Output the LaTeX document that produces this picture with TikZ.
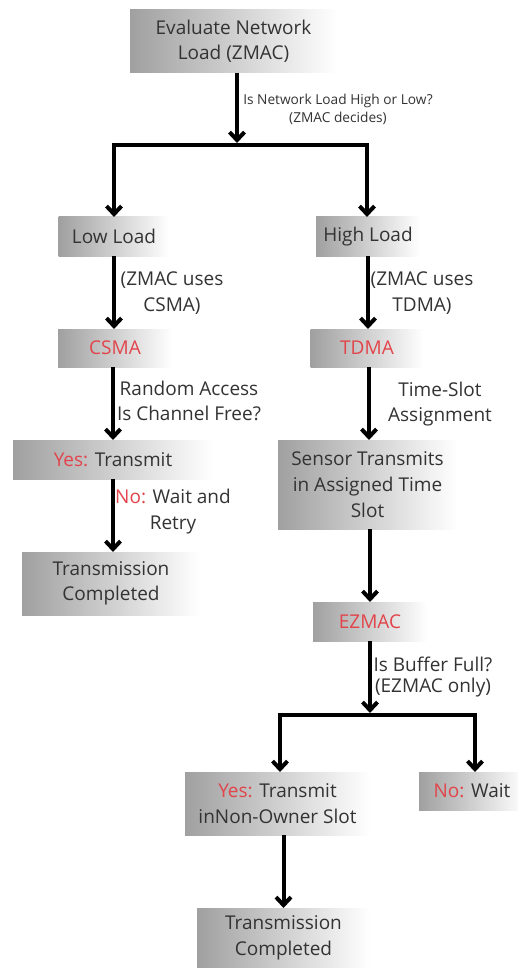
\documentclass[tikz,border=0pt]{standalone}
\usepackage{fontspec}
\setmainfont{Open Sans}
\usetikzlibrary{arrows.meta}
\definecolor{txt}{HTML}{333333}
\definecolor{redt}{HTML}{E2444B}
\definecolor{boxl}{HTML}{A0A0A0}
\newcommand{\rd}[1]{\textcolor{redt}{#1}}
\begin{document}
\begin{tikzpicture}[x=1pt,y=-1pt,
  box/.style={left color=boxl, right color=white, draw=none, inner sep=0pt, outer sep=0pt,
    align=center, text=txt, font=\fontsize{19}{25}\selectfont},
  lbl/.style={text=txt, align=center, inner sep=0pt, font=\fontsize{19}{26}\selectfont},
  small/.style={text=txt, align=center, inner sep=0pt, font=\fontsize{13.7}{18}\selectfont},
  ln/.style={draw=black, line width=4pt, line join=miter},
  arr/.style={ln, -{Straight Barb[length=8pt,width=15pt]}}]
\useasboundingbox (0,0) rectangle (517,968);
\fill[white] (0,0) rectangle (517,968);

% boxes
\node[box, minimum width=207, minimum height=63] (eval) at (233.5,41.5) {Evaluate Network\\Load (ZMAC)};
\node[box, minimum width=111, minimum height=39] (low) at (114,236.5) {Low Load};
\node[box, minimum width=104, minimum height=39] (high) at (368,236.5) {High Load};
\node[box, minimum width=114, minimum height=38] (csma) at (115,348) {\rd{CSMA}};
\node[box, minimum width=113, minimum height=38] (tdma) at (367,348) {\rd{TDMA}};
\node[box, minimum width=200, minimum height=39] (yes1) at (113,459.5) {\rd{Yes:} Transmit};
\node[box, minimum width=178, minimum height=63] (done1) at (111,583.5) {Transmission\\Completed};
\node[box, minimum width=179, minimum height=89, font=\fontsize{19}{26}\selectfont] (sensor) at (367.5,484.5) {Sensor Transmits\\in Assigned Time\\Slot};
\node[box, minimum width=114, minimum height=39] (ezmac) at (370,621.5) {\rd{EZMAC}};
\node[box, minimum width=185, minimum height=63, font=\fontsize{19}{26}\selectfont] (yes2) at (277.5,803.5) {\rd{Yes:} Transmit\\inNon-Owner Slot};
\node[box, minimum width=106, minimum height=38] (no2) at (472,791) {\rd{No:} Wait};
\node[box, minimum width=173, minimum height=60, font=\fontsize{19}{26}\selectfont] (done2) at (283.5,938) {Transmission\\Completed};

% labels
\node[small] (l1) at (338,109) {Is Network Load High or Low?\\(ZMAC decides)};
\node[lbl] (l2) at (172,293) {(ZMAC uses\\CSMA)};
\node[lbl] (l3) at (422,293) {(ZMAC uses\\TDMA)};
\node[lbl, font=\fontsize{19}{25}\selectfont] (l4) at (189,400.5) {Random Access\\Is Channel Free?};
\node[lbl, font=\fontsize{19}{25}\selectfont] (l5) at (440,404.5) {Time-Slot\\Assignment};
\node[lbl] (l6) at (173,512) {\rd{No:} Wait and\\Retry};
\node[lbl, font=\fontsize{19}{21}\selectfont] (l7) at (433,677.5) {Is Buffer Full?\\(EZMAC only)};

% split coordinates
\coordinate (s1) at (237,143);
\coordinate (bl) at (114,145);
\coordinate (br) at (367,145);
\coordinate (tx) at (369,0);
\coordinate (s2) at (370,713);
\coordinate (bl2) at (280,715);
\coordinate (br2) at (475,715);

% connectors
\draw[arr] (eval.south -| s1) -- (s1);
\draw[arr] (br) -- (bl) -- (bl |- low.north);
\draw[arr] (bl) -- (br) -- (br |- high.north);
\draw[arr] (low.south) -- (low.south |- csma.north);
\draw[arr] (high.south) -- (high.south |- tdma.north);
\draw[arr] (yes1.north |- csma.south) -- (yes1.north);
\draw[arr] (yes1.south) -- (yes1.south |- done1.north);
\draw[arr] (tdma.south -| tx) -- (sensor.north -| tx);
\draw[arr] (sensor.south -| ezmac.north) -- (ezmac.north);
\draw[arr] (ezmac.south) -- (s2);
\draw[arr] (br2) -- (bl2) -- (bl2 |- yes2.north);
\draw[arr] (bl2) -- (br2) -- (br2 |- no2.north);
\draw[arr] (done2.north |- yes2.south) -- (done2.north);
\end{tikzpicture}
\end{document}
